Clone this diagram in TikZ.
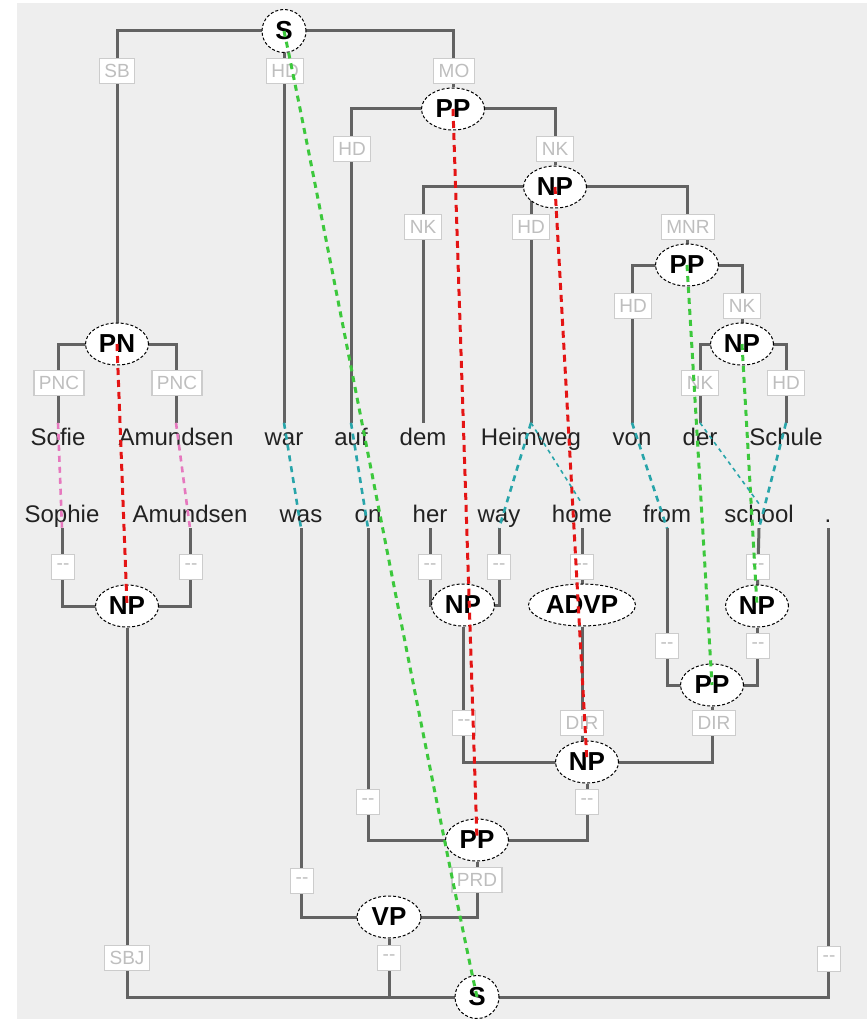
\documentclass[tikz,border=0pt]{standalone}
\usepackage{fontspec}
\setmainfont{Liberation Sans}
\usetikzlibrary{shapes.geometric}
\pgfdeclarelayer{bgl}
\pgfdeclarelayer{edgel}
\pgfdeclarelayer{fgl}
\pgfsetlayers{bgl,edgel,main,fgl}
\definecolor{bgc}{RGB}{238,238,238}
\definecolor{edgec}{RGB}{98,98,98}
\definecolor{lblc}{RGB}{204,204,204}
\definecolor{lbltxt}{RGB}{190,190,190}
\definecolor{wordc}{RGB}{34,34,34}
\definecolor{redc}{RGB}{228,20,20}
\definecolor{greenc}{RGB}{60,200,60}
\definecolor{pinkc}{RGB}{230,120,190}
\definecolor{tealc}{RGB}{40,165,170}
\begin{document}
\begin{tikzpicture}[x=1pt,y=-1pt,
  phr/.style={ellipse, draw=black, dash pattern=on 3pt off 2pt, line width=1pt, fill=white,
    minimum width=63pt, minimum height=42pt, inner sep=0pt, font=\fontsize{26}{26}\selectfont\bfseries},
  lbl/.style={draw=lblc, line width=1.3pt, fill=white, text=lbltxt, font=\fontsize{19}{19}\selectfont,
    minimum height=25pt, minimum width=22pt, inner xsep=5pt, inner ysep=0pt},
  de/.style={font=\fontsize{24}{24}\selectfont, text=wordc, inner xsep=0pt, inner ysep=5pt,
    text height=17pt, text depth=5pt, anchor=base},
  en/.style={font=\fontsize{24}{24}\selectfont, text=wordc, inner xsep=0pt, inner ysep=1pt,
    text height=17pt, text depth=5pt, anchor=base},
  edge/.style={draw=edgec, line width=3pt},
  alred/.style={draw=redc, line width=3pt, dash pattern=on 7pt off 5pt},
  algreen/.style={draw=greenc, line width=3pt, dash pattern=on 6pt off 5pt},
  alpink/.style={draw=pinkc, line width=2.6pt, dash pattern=on 6pt off 5pt},
  alteal/.style={draw=tealc, line width=2.6pt, dash pattern=on 6pt off 5pt},
  altealthin/.style={draw=tealc, line width=1.6pt, dash pattern=on 4pt off 4pt}
]
\useasboundingbox (0,0) rectangle (867,1019);
\begin{pgfonlayer}{bgl}
  \fill[white] (0,0) rectangle (867,1019);
  \fill[bgc] (17,3) rectangle (867,1019);
\end{pgfonlayer}

% ---------- German words ----------
\node[de] (wSofie) at (58,445) {Sofie};
\node[de] (wAmundsenDe) at (176,445) {Amundsen};
\node[de] (wwar) at (284,445) {war};
\node[de] (wauf) at (351,445) {auf};
\node[de] (wdem) at (423,445) {dem};
\node[de] (wHeimweg) at (531,445) {Heimweg};
\node[de] (wvon) at (632,445) {von};
\node[de] (wder) at (700,445) {der};
\node[de] (wSchule) at (786,445) {Schule};

% ---------- English words ----------
\node[en] (wSophie) at (62,522) {Sophie};
\node[en] (wAmundsenEn) at (190,522) {Amundsen};
\node[en] (wwas) at (301,522) {was};
\node[en] (won) at (368,522) {on};
\node[en] (wher) at (430,522) {her};
\node[en] (wway) at (499,522) {way};
\node[en] (whome) at (582,522) {home};
\node[en] (wfrom) at (667,522) {from};
\node[en] (wschool) at (759,522) {school};
\node[en] (wdot) at (828,522) {.};

% ---------- German tree ----------
\node[phr, minimum width=44pt, minimum height=43pt] (S1) at (284,31) {S};
\node[phr] (PP1) at (453,109) {PP};
\node[phr] (NP1) at (555,187) {NP};
\node[phr] (PP2) at (687,265) {PP};
\node[phr] (NP2) at (742,344) {NP};
\node[phr] (PN) at (117,344) {PN};

% ---------- English tree ----------
\node[phr] (NPa) at (127,606) {NP};
\node[phr] (NPb) at (463,605) {NP};
\node[phr, minimum width=107pt] (ADVP) at (582,605) {ADVP};
\node[phr] (NPc) at (757,606) {NP};
\node[phr] (PP3) at (712,685) {PP};
\node[phr] (NP3) at (587,762) {NP};
\node[phr] (PP4) at (477,840) {PP};
\node[phr, minimum width=64pt] (VP) at (389,917) {VP};
\node[phr, minimum width=44pt, minimum height=43pt] (S2) at (477,997) {S};

% ---------- edges ----------
\begin{pgfonlayer}{edgel}
  \draw[edge] (S1.center) -| (PN.north);
  \draw[edge] (S1.center) -- (wwar.north);
  \draw[edge] (S1.center) -| (PP1.north);
  \draw[edge] (PP1.center) -| (wauf.north);
  \draw[edge] (PP1.center) -| (NP1.north);
  \draw[edge] (NP1.center) -| (wdem.north);
  \draw[edge] (NP1.center) -| (wHeimweg.north);
  \draw[edge] (NP1.center) -| (PP2.north);
  \draw[edge] (PP2.center) -| (wvon.north);
  \draw[edge] (PP2.center) -| (NP2.north);
  \draw[edge] (NP2.center) -| (wder.north);
  \draw[edge] (NP2.center) -| (wSchule.north);
  \draw[edge] (PN.center) -| (wSofie.north);
  \draw[edge] (PN.center) -| (wAmundsenDe.north);

  \draw[edge] (NPa.center) -| (wSophie.south);
  \draw[edge] (NPa.center) -| (wAmundsenEn.south);
  \draw[edge] (NPb.center) -| (wher.south);
  \draw[edge] (NPb.center) -| (wway.south);
  \draw[edge] (ADVP.center) -- (whome.south);
  \draw[edge] (NPc.center) -- (wschool.south);
  \draw[edge] (PP3.center) -| (wfrom.south);
  \draw[edge] (PP3.center) -| (NPc.south);
  \draw[edge] (NP3.center) -| (NPb.south);
  \draw[edge] (NP3.center) -| (ADVP.south);
  \draw[edge] (NP3.center) -| (PP3.south);
  \draw[edge] (PP4.center) -| (won.south);
  \draw[edge] (PP4.center) -| (NP3.south);
  \draw[edge] (VP.center) -| (wwas.south);
  \draw[edge] (VP.center) -| (PP4.south);
  \draw[edge] (S2.center) -| (NPa.south);
  \draw[edge] (S2.center) -| (VP.south);
  \draw[edge] (S2.center) -| (wdot.south);
\end{pgfonlayer}

% ---------- edge labels ----------
\node[lbl] (lSB) at (117,71) {SB};
\node[lbl] (lHD1) at (285,71) {HD};
\node[lbl] (lMO) at (454,71) {MO};
\node[lbl] (lHD2) at (352,149) {HD};
\node[lbl] (lNK1) at (555,149) {NK};
\node[lbl] (lNK2) at (423,227) {NK};
\node[lbl] (lHD3) at (531,227) {HD};
\node[lbl] (lMNR) at (688,227) {MNR};
\node[lbl] (lHD4) at (633,306) {HD};
\node[lbl] (lNK3) at (742,306) {NK};
\node[lbl] (lNK4) at (700,383) {NK};
\node[lbl] (lHD5) at (786,383) {HD};
\node[lbl] (lPNC1) at (59,383) {PNC};
\node[lbl] (lPNC2) at (177,383) {PNC};

\node[lbl] (lx1) at (63,567) {-{}-};
\node[lbl] (lx2) at (191,567) {-{}-};
\node[lbl] (lx3) at (430,567) {-{}-};
\node[lbl] (lx4) at (499,567) {-{}-};
\node[lbl] (lx5) at (582,567) {-{}-};
\node[lbl] (lx6) at (758,567) {-{}-};
\node[lbl] (lx7) at (667,646) {-{}-};
\node[lbl] (lx8) at (758,646) {-{}-};
\node[lbl] (lx9) at (464,723) {-{}-};
\node[lbl] (lDIR1) at (582,723) {DIR};
\node[lbl] (lDIR2) at (714,723) {DIR};
\node[lbl] (lx10) at (368,802) {-{}-};
\node[lbl] (lx11) at (587,802) {-{}-};
\node[lbl] (lx12) at (302,881) {-{}-};
\node[lbl] (lPRD) at (477,880) {PRD};
\node[lbl] (lSBJ) at (127,958) {SBJ};
\node[lbl] (lx13) at (389,958) {-{}-};
\node[lbl] (lx14) at (829,959) {-{}-};

% ---------- alignments ----------
\begin{pgfonlayer}{fgl}
  \draw[algreen] (S1.center) .. controls (310,150) and (430,780) .. (S2.center);
  \draw[alred] (PP1.center) -- (PP4.center);
  \draw[alred] (NP1.center) -- (NP3.center);
  \draw[alred] (PN.center) -- (NPa.center);
  \draw[algreen] (PP2.center) -- (PP3.center);
  \draw[algreen] (NP2.center) -- (NPc.center);
  \draw[alpink] (wSofie.north) -- (wSophie.south);
  \draw[alpink] (wAmundsenDe.north) -- (wAmundsenEn.south);
  \draw[alteal] (wwar.north) -- (wwas.south);
  \draw[alteal] (wauf.north) -- (won.south);
  \draw[alteal] (wHeimweg.north) -- (wway.south);
  \draw[altealthin] (wHeimweg.north) -- (whome.north);
  \draw[alteal] (wvon.north) -- (wfrom.south);
  \draw[altealthin] (wder.north) -- (wschool.north);
  \draw[alteal] (wSchule.north) -- (wschool.south);
\end{pgfonlayer}
\end{tikzpicture}
\end{document}
